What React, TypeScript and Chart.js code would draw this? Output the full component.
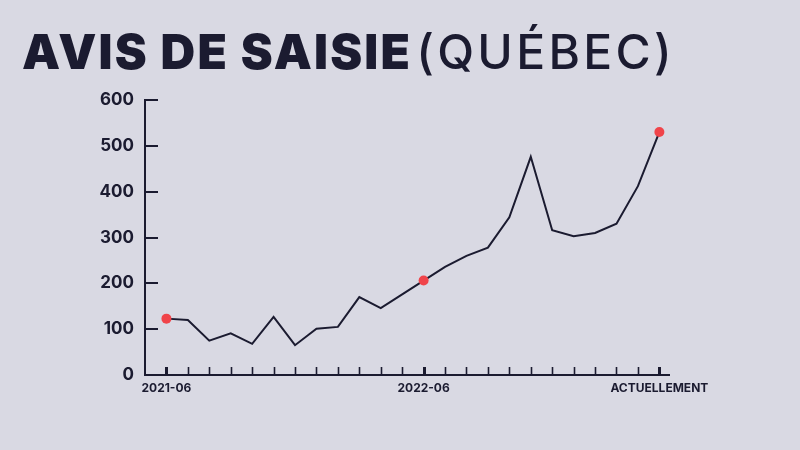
import React, { useEffect, useRef } from "react";
import { Chart, registerables } from "chart.js";

Chart.register(...registerables);

const TITLE_BOLD = "AVIS DE SAISIE";
const TITLE_LIGHT = "(QUÉBEC)";

// 24 monthly points, 2021-06 .. 2023-05 (ACTUELLEMENT)
const months = [
  "2021-06", "2021-07", "2021-08", "2021-09", "2021-10", "2021-11",
  "2021-12", "2022-01", "2022-02", "2022-03", "2022-04", "2022-05",
  "2022-06", "2022-07", "2022-08", "2022-09", "2022-10", "2022-11",
  "2022-12", "2023-01", "2023-02", "2023-03", "2023-04", "ACTUELLEMENT",
];
const values = [
  123, 120, 75, 91, 68, 127, 65, 101, 105, 170, 146, 176,
  206, 236, 260, 278, 344, 476, 316, 303, 310, 330, 412, 530,
];
const shownLabels = ["2021-06", "2022-06", "ACTUELLEMENT"];
const highlighted = [0, 12, 23];
const yTicks = [0, 100, 200, 300, 400, 500, 600];

const INK = "#1b1b30";
const RED = "#f0444a";
const BG = "#d9d9e3";

const tickMarks = {
  id: "tickMarks",
  afterDatasetsDraw(chart: any) {
    const { ctx } = chart;
    const xs = chart.scales.x;
    const ys = chart.scales.y;
    const base = ys.getPixelForValue(0);
    const left = xs.left;
    ctx.save();
    ctx.strokeStyle = INK;
    months.forEach((m, i) => {
      const px = Math.round(xs.getPixelForValue(i)) + 0.5;
      const major = shownLabels.includes(m);
      ctx.lineWidth = major ? 3 : 1.6;
      ctx.beginPath();
      ctx.moveTo(px, base);
      ctx.lineTo(px, base - 8);
      ctx.stroke();
    });
    ctx.lineWidth = 2;
    yTicks.forEach((v) => {
      if (v === 0) return;
      const py = Math.round(ys.getPixelForValue(v));
      ctx.beginPath();
      ctx.moveTo(left, py);
      ctx.lineTo(left + 13, py);
      ctx.stroke();
    });
    ctx.restore();
  },
};

function LineChart() {
  const ref = useRef<HTMLCanvasElement>(null);
  useEffect(() => {
    if (!ref.current) return;
    const chart = new Chart(ref.current, {
      type: "line",
      data: {
        datasets: [
          {
            data: values.map((v, i) => ({ x: i, y: v })),
            borderColor: INK,
            borderWidth: 2,
            tension: 0,
            pointRadius: (c: any) => (highlighted.includes(c.dataIndex) ? 5 : 0),
            pointBackgroundColor: RED,
            pointBorderWidth: 0,
            pointHoverRadius: 5,
          },
        ],
      },
      options: {
        animation: false,
        responsive: false,
        maintainAspectRatio: false,
        layout: { padding: { left: 0, right: 131, top: 100, bottom: 0 } },
        plugins: { legend: { display: false }, tooltip: { enabled: false } },
        scales: {
          x: {
            type: "linear",
            min: -1,
            max: 23.45,
            afterBuildTicks: (s: any) => {
              s.ticks = months.map((_, i) => ({ value: i }));
            },
            afterFit: (s: any) => {
              s.height = 75;
            },
            grid: { display: false, drawTicks: false },
            border: { display: true, color: INK, width: 2 },
            ticks: {
              autoSkip: false,
              maxRotation: 0,
              padding: 6,
              color: INK,
              font: { family: "Inter, 'Noto Sans', sans-serif", size: 12, weight: "bold" },
              callback: (v: any) => {
                const m = months[v as number];
                return shownLabels.includes(m) ? m : "";
              },
            },
          },
          y: {
            min: 0,
            max: 600,
            afterBuildTicks: (s: any) => {
              s.ticks = yTicks.map((v) => ({ value: v }));
            },
            afterFit: (s: any) => {
              s.width = 145;
            },
            grid: { display: false, drawTicks: false },
            border: { display: true, color: INK, width: 2 },
            ticks: {
              padding: 11,
              color: INK,
              font: { family: "Inter, 'Noto Sans', sans-serif", size: 17, weight: "bold" },
            },
          },
        },
      },
      plugins: [tickMarks],
    });
    return () => chart.destroy();
  }, []);
  return <canvas ref={ref} width={800} height={450} style={{ position: "absolute", left: 0, top: 0 }} />;
}

export default function App() {
  return (
    <div
      style={{
        position: "fixed",
        left: 0,
        top: 0,
        width: 800,
        height: 450,
        background: BG,
        overflow: "hidden",
      }}
    >
      <LineChart />
      <div
        style={{
          position: "absolute",
          left: 22,
          top: 22,
          whiteSpace: "nowrap",
          color: INK,
          fontSize: 48,
          lineHeight: "60px",
          fontFamily: "Inter, sans-serif",
        }}
      >
        <span style={{ fontWeight: 900, letterSpacing: 2.2 }}>{TITLE_BOLD}</span>
        <span style={{ fontWeight: 500, marginLeft: 4, letterSpacing: 3.3 }}>{TITLE_LIGHT}</span>
      </div>
    </div>
  );
}
